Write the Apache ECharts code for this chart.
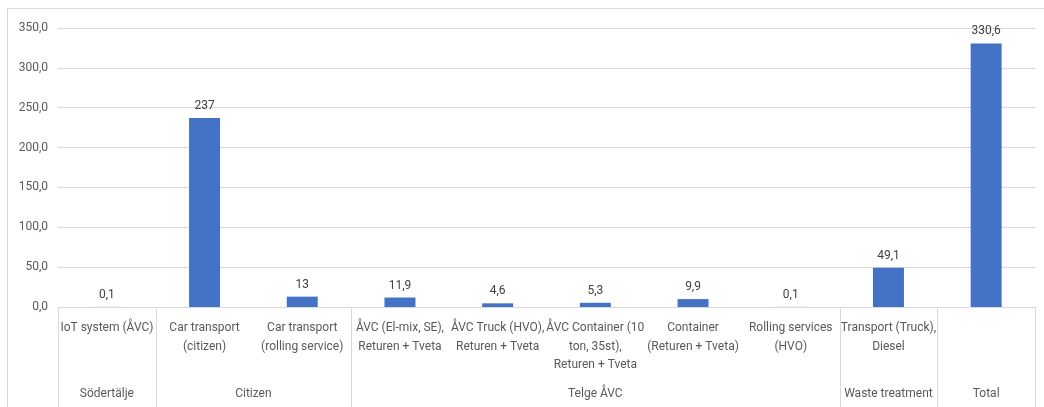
<!DOCTYPE html>
<html>
<head>
<meta charset="utf-8">
<script src="https://cdn.jsdelivr.net/npm/echarts@6/dist/echarts.min.js"></script>
<style>
html,body{margin:0;padding:0;background:#fff;}
#c{width:1044px;height:407px;}
</style>
</head>
<body>
<div id="c"></div>
<script>
var categories = [
  "IoT system (ÅVC)",
  "Car transport\n(citizen)",
  "Car transport\n(rolling service)",
  "ÅVC (El-mix, SE),\nReturen + Tveta",
  "ÅVC Truck (HVO),\nReturen + Tveta",
  "ÅVC Container (10\nton, 35st),\nReturen + Tveta",
  "Container\n(Returen + Tveta)",
  "Rolling services\n(HVO)",
  "Transport (Truck),\nDiesel",
  ""
];
var values = [0.1, 237, 13, 11.9, 4.6, 5.3, 9.9, 0.1, 49.1, 330.6];
var groupNames = ["Södertälje", "Citizen", "Telge ÅVC", "Waste treatment", "Total"];
var groupSizes = [1, 2, 5, 1, 1];
var yTicks = [0, 50, 100, 150, 200, 250, 300, 350];

var FONT = 'Roboto, "Open Sans", sans-serif';
var FS = 12;
var chart = echarts.init(document.getElementById('c'), null, {renderer: 'canvas'});
var fmt = function (v) { return String(v).replace('.', ','); };

chart.setOption({
  animation: false,
  backgroundColor: '#ffffff',
  grid: {left: 58, right: 9, top: 28, bottom: 100, containLabel: false},
  xAxis: {
    type: 'category',
    data: categories,
    boundaryGap: true,
    axisLine: {show: true, lineStyle: {color: '#d9d9d9', width: 1}},
    axisTick: {show: false},
    axisLabel: {
      interval: 0, margin: 12, color: '#595959', fontSize: FS, fontFamily: FONT,
      lineHeight: 18.5, verticalAlign: 'top', align: 'center'
    }
  },
  yAxis: {
    type: 'value', min: yTicks[0], max: yTicks[yTicks.length - 1], interval: 50,
    axisLine: {show: false}, axisTick: {show: false},
    splitLine: {lineStyle: {color: '#d9d9d9', width: 1}},
    axisLabel: {
      margin: 10, color: '#595959', fontSize: FS, fontFamily: FONT,
      formatter: function (v) { return v.toFixed(1).replace('.', ','); }
    }
  },
  series: [{
    type: 'bar',
    data: values,
    barWidth: 31,
    itemStyle: {color: '#4472C4'},
    label: {
      show: true, position: 'top', distance: 6, color: '#404040',
      fontSize: FS, fontFamily: FONT,
      formatter: function (p) { return fmt(p.value); }
    }
  }]
});

function drawGroups() {
  var c0 = chart.convertToPixel({xAxisIndex: 0}, 0);
  var c1 = chart.convertToPixel({xAxisIndex: 0}, 1);
  var w = c1 - c0;
  var yAxis0 = chart.convertToPixel({yAxisIndex: 0}, 0);
  var elements = [];
  elements.push({
    type: 'rect', silent: true,
    shape: {x: 7.5, y: 8.5, width: 1060, height: 420},
    style: {fill: null, stroke: '#d9d9d9', lineWidth: 1}
  });
  var idx = 0;
  var boundaries = [c0 - w / 2];
  for (var g = 0; g < groupSizes.length; g++) {
    var left = c0 - w / 2 + idx * w;
    idx += groupSizes[g];
    var right = c0 - w / 2 + idx * w;
    boundaries.push(right);
    elements.push({
      type: 'text', silent: true,
      style: {
        text: groupNames[g], x: (left + right) / 2, y: 394,
        align: 'center', verticalAlign: 'middle',
        fill: '#595959', font: FS + 'px ' + FONT
      }
    });
  }
  boundaries.forEach(function (bx) {
    var x = Math.round(bx) + 0.5;
    elements.push({
      type: 'line', silent: true,
      shape: {x1: x, y1: yAxis0, x2: x, y2: 410},
      style: {stroke: '#d9d9d9', lineWidth: 1}
    });
  });
  chart.setOption({graphic: elements});
}
drawGroups();
</script>
</body>
</html>
